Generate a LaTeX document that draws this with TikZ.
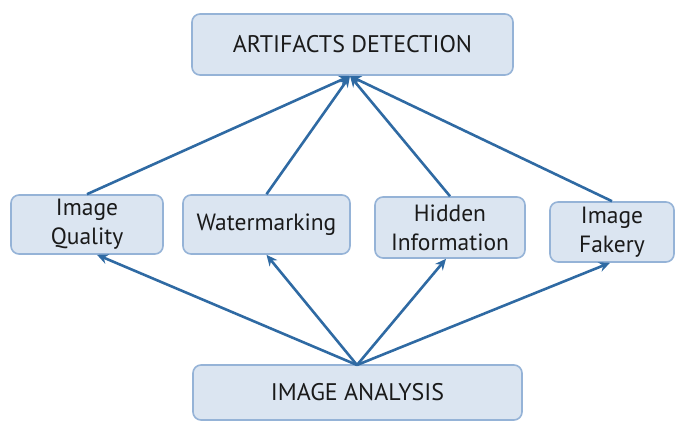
\documentclass[tikz,border=0pt]{standalone}
\usepackage{fontspec}
\setmainfont{PT Sans}
\usetikzlibrary{arrows.meta}
\definecolor{boxfill}{HTML}{DBE5F1}
\definecolor{boxline}{HTML}{95B3D7}
\definecolor{arrowc}{HTML}{2F6AA3}
\definecolor{txt}{HTML}{1A1A1A}
\begin{document}
\begin{tikzpicture}[x=1pt,y=-1pt,
  box/.style={draw=boxline,fill=boxfill,line width=1.6pt,rounded corners=8pt,
    text=txt,align=center,inner sep=0pt,font=\fontsize{23.5}{29}\selectfont},
  arr/.style={draw=arrowc,line width=2.6pt,-{Stealth[length=11pt,width=10pt]}}]
\useasboundingbox (0,0) rectangle (675,423);
\node[box,minimum width=321pt,minimum height=61pt,font=\fontsize{24}{29}\selectfont] (ad) at (352.5,44.5) {ARTIFACTS DETECTION};
\node[box,minimum width=152pt,minimum height=59pt] (iq) at (87,224.5) {Image\\Quality};
\node[box,minimum width=167pt,minimum height=59pt] (wm) at (266.5,224.5) {Watermarking};
\node[box,minimum width=150pt,minimum height=61pt] (hi) at (450,227.5) {Hidden\\Information};
\node[box,minimum width=124pt,minimum height=60pt] (if) at (612,232) {Image\\Fakery};
\node[box,minimum width=329pt,minimum height=55pt,font=\fontsize{24}{29}\selectfont] (ia) at (357.5,392.5) {IMAGE ANALYSIS};
\coordinate (top) at (350,76);
\coordinate (bot) at (357,365);
\draw[arr] (iq.north) -- (top);
\draw[arr] (wm.north) -- (top);
\draw[arr] (hi.north) -- (top);
\draw[arr] (if.north) -- (top);
\draw[arr] (bot) -- ([xshift=10pt]iq.south);
\draw[arr] (bot) -- (wm.south);
\draw[arr] (bot) -- ([xshift=-4pt]hi.south);
\draw[arr] (bot) -- ([xshift=-2pt]if.south);
\end{tikzpicture}
\end{document}
